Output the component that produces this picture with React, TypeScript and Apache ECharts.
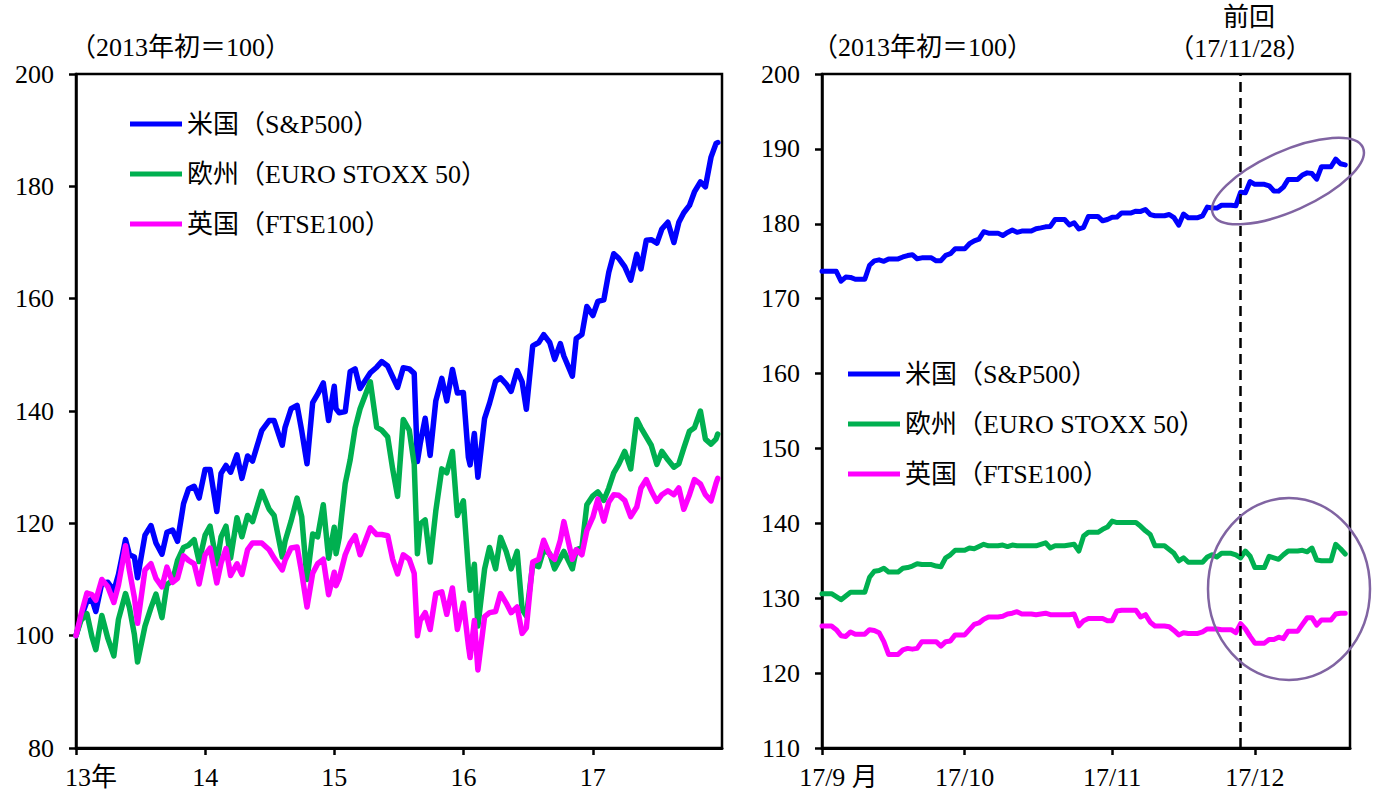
import { useEffect, useRef } from 'react';
import * as echarts from 'echarts';

const FONT = 'Liberation Serif, Noto Sans CJK JP, serif';
const SERIES_NAMES = ['米国（S&P500）', '欧州（EURO STOXX 50）', '英国（FTSE100）'];
const COLORS = ['#0000FF', '#00B050', '#FF00FF'];

// ---------- Left chart: 2013–2017 (2013 start = 100) ----------
const longDates = [
  '2013-01-01','2013-01-15','2013-02-01','2013-02-15','2013-02-26','2013-03-15','2013-04-01','2013-04-18','2013-05-01','2013-05-21','2013-06-01','2013-06-15','2013-06-24','2013-07-15','2013-08-01','2013-08-15','2013-09-01','2013-09-15','2013-10-01','2013-10-15','2013-11-01','2013-11-15','2013-12-01','2013-12-15',
  '2014-01-01','2014-01-15','2014-02-03','2014-02-15','2014-03-01','2014-03-14','2014-04-01','2014-04-15','2014-05-01','2014-05-15','2014-06-10','2014-07-01','2014-07-15','2014-08-07','2014-08-15','2014-09-01','2014-09-18','2014-10-01','2014-10-16','2014-11-01','2014-11-15','2014-12-01','2014-12-16',
  '2015-01-01','2015-01-06','2015-01-15','2015-02-01','2015-02-15','2015-03-01','2015-03-15','2015-04-13','2015-05-01','2015-05-15','2015-06-01','2015-06-15','2015-06-29','2015-07-15','2015-08-01','2015-08-15','2015-08-24','2015-09-01','2015-09-15','2015-09-29','2015-10-15','2015-11-01','2015-11-15','2015-12-01','2015-12-15',
  '2016-01-01','2016-01-15','2016-01-20','2016-02-01','2016-02-11','2016-03-01','2016-03-15','2016-04-01','2016-04-15','2016-05-01','2016-05-15','2016-06-01','2016-06-15','2016-06-27','2016-07-15','2016-08-01','2016-08-15','2016-09-01','2016-09-15','2016-10-01','2016-10-11','2016-11-04','2016-11-15','2016-12-01','2016-12-15',
  '2017-01-01','2017-01-15','2017-02-01','2017-02-15','2017-03-01','2017-03-15','2017-04-01','2017-04-18','2017-05-05','2017-05-17','2017-06-01','2017-06-15','2017-07-01','2017-07-15','2017-08-01','2017-08-18','2017-09-01','2017-09-15','2017-10-01','2017-10-15','2017-11-01','2017-11-15','2017-12-01','2017-12-15','2017-12-20',
];
const usLong = [
  100.0,103.2,106.1,106.5,104.3,109.4,109.5,108.0,110.9,117.1,114.4,114.0,110.3,117.9,119.6,116.5,114.5,118.4,118.8,116.8,123.5,126.1,126.6,124.5,
  129.6,129.6,122.1,128.9,130.3,129.1,132.2,128.0,132.0,131.1,136.5,138.3,138.3,133.9,137.1,140.4,141.0,136.5,130.6,141.5,143.0,145.0,138.3,
  144.4,140.4,139.7,139.9,147.0,147.5,144.0,146.8,147.8,148.8,148.0,146.1,144.2,147.7,147.5,146.7,131.0,134.2,138.7,132.1,141.8,145.8,141.8,147.4,143.2,
  143.3,131.8,130.4,136.0,128.2,138.7,141.4,145.3,145.9,144.8,143.5,147.2,145.2,140.3,151.6,152.2,153.6,152.2,149.2,152.0,149.8,146.2,152.9,153.6,158.6,
  157.0,159.5,159.8,164.7,168.0,167.2,165.7,163.3,167.9,165.3,170.4,170.5,169.9,172.4,173.6,170.0,173.6,175.3,176.6,179.0,180.8,179.9,185.2,187.6,187.8,
];
const euLong = [
  100.0,102.7,103.9,99.8,97.5,103.6,99.5,96.4,102.9,107.5,105.0,100.2,95.3,101.7,105.0,107.4,103.2,109.1,109.8,113.4,115.7,116.1,117.1,113.2,
  117.9,119.5,112.8,117.6,119.5,113.8,121.0,117.6,121.4,120.3,125.7,122.5,121.4,114.0,116.8,120.4,124.5,121.2,110.0,118.1,117.6,123.3,113.8,
  119.3,114.6,117.5,127.1,131.3,137.0,140.4,145.2,137.1,136.6,135.4,129.7,124.8,138.5,136.6,130.5,114.6,119.9,120.6,113.1,122.2,129.7,129.0,132.8,121.4,
  124.0,111.9,108.1,112.7,101.7,111.9,115.7,111.9,117.5,115.0,111.9,115.0,104.7,103.5,112.7,112.3,115.3,114.6,111.9,113.8,115.0,111.9,115.3,115.7,123.3,
  124.9,125.6,124.1,126.3,129.0,130.5,132.8,129.7,138.5,137.0,135.4,133.9,130.5,132.8,131.3,130.0,130.6,133.4,136.4,137.0,140.0,135.0,134.1,135.0,135.9,
];
const ukLong = [
  100.0,103.7,107.6,107.3,106.3,110.0,108.7,105.9,109.0,116.0,111.6,106.8,102.2,111.7,112.8,110.2,108.7,112.2,109.5,110.2,114.2,113.4,112.8,109.2,
  114.4,115.6,109.4,112.9,115.5,110.7,112.8,110.9,115.3,116.5,116.5,115.3,113.8,111.7,113.4,115.6,115.8,111.2,105.1,111.1,112.8,113.6,107.3,
  111.3,108.9,110.2,114.4,116.5,117.8,114.4,119.2,118.0,118.0,117.8,113.6,111.0,114.4,113.6,111.1,100.0,102.7,104.1,101.1,107.5,107.8,103.8,108.5,101.1,
  105.8,98.3,96.1,102.7,93.9,103.4,104.1,104.3,107.5,105.8,104.1,105.1,100.4,101.4,113.1,113.6,117.0,114.4,113.6,117.0,120.3,113.6,115.3,114.4,118.7,
  121.1,124.3,120.4,123.8,125.1,125.0,124.1,121.2,122.9,126.3,127.8,125.8,123.9,125.1,125.8,125.1,126.3,122.5,125.1,127.8,127.0,125.1,124.0,127.1,128.0,
];

// ---------- Right chart: daily (calendar days) from 2017-09-01 ----------
const DAILY_START = [2017, 8, 1]; // 2017-09-01
const usDaily = [
  173.65,173.65,173.65,173.65,172.34,172.88,172.84,172.59,172.59,172.59,
  174.46,175.05,175.18,174.99,175.31,175.31,175.31,175.57,175.76,175.87,
  175.33,175.45,175.45,175.45,175.06,175.07,175.79,176.00,176.65,176.65,
  176.65,177.34,177.72,177.94,178.94,178.75,178.75,178.75,178.43,178.84,
  179.17,178.86,179.02,179.02,179.02,179.33,179.45,179.59,179.65,180.57,
  180.57,180.57,179.85,180.14,179.30,179.53,180.98,180.98,180.98,180.40,
  180.57,180.86,180.89,181.45,181.45,181.45,181.68,181.65,181.91,181.23,
  181.07,181.07,181.07,181.24,180.82,179.82,181.30,180.82,180.82,180.82,
  181.05,182.23,182.10,182.10,182.47,182.47,182.47,182.40,184.20,184.13,
  185.64,185.27,185.27,185.27,185.07,184.38,184.36,184.90,185.92,185.92,
  185.92,186.51,186.80,186.71,185.95,187.62,187.62,187.62,188.63,188.02,187.86,
];
const euDaily = [
  130.6,130.6,130.6,130.2,129.8,130.3,130.8,130.8,130.8,130.8,
  132.8,133.6,133.7,134.0,133.5,133.5,133.5,134.0,134.1,134.3,
  134.6,134.5,134.5,134.5,134.3,134.2,135.4,135.8,136.4,136.4,
  136.4,136.7,136.6,136.9,137.2,137.0,137.0,137.0,137.1,136.9,
  137.1,137.0,137.0,137.0,137.0,137.0,137.2,137.4,136.7,137.0,
  137.0,137.0,137.1,137.2,136.3,138.3,138.8,138.8,138.8,139.2,
  139.5,140.3,140.1,140.1,140.1,140.1,140.1,139.6,139.0,138.5,
  137.0,137.0,137.0,136.5,136.0,135.0,135.4,134.8,134.8,134.8,
  134.8,135.5,135.8,135.5,136.0,136.0,136.0,135.8,135.4,136.3,
  135.6,134.1,134.1,134.1,135.6,135.4,135.2,135.8,136.3,136.3,
  136.3,136.4,136.2,136.7,135.1,135.0,135.0,135.0,137.2,136.6,135.9,
];
const ukDaily = [
  126.3,126.3,126.3,125.8,125.0,124.9,125.5,125.2,125.2,125.2,
  125.8,125.7,125.4,124.2,122.5,122.5,122.5,123.1,123.3,123.2,
  123.3,124.2,124.2,124.2,124.2,123.6,124.2,124.3,125.1,125.1,
  125.1,125.8,126.5,126.7,127.2,127.5,127.5,127.5,127.6,127.9,
  128.0,128.2,127.9,127.9,127.9,127.8,127.9,128.0,127.8,127.8,
  127.8,127.8,127.8,127.9,126.3,127.0,127.3,127.3,127.3,127.3,
  127.0,127.0,128.3,128.4,128.4,128.4,128.4,127.5,127.8,126.8,
  126.3,126.3,126.3,126.2,125.7,125.1,125.4,125.3,125.3,125.3,
  125.5,125.9,125.9,125.9,125.8,125.8,125.8,125.4,126.6,125.9,
  124.9,124.0,124.0,124.0,124.5,124.5,124.8,124.6,125.6,125.6,
  125.6,126.5,127.4,127.4,126.4,127.1,127.1,127.1,127.9,128.0,128.0,
];
const PREVIOUS_DATE = [2017, 10, 28]; // 17/11/28

const DAY = 24 * 3600 * 1000;
const ts = (y: number, m: number, d: number) => new Date(y, m, d).getTime();

export default function App() {
  const ref = useRef<HTMLDivElement>(null);

  useEffect(() => {
    if (!ref.current) return;
    const chart = echarts.init(ref.current, undefined, { renderer: 'svg' });

    const longSeries = [usLong, euLong, ukLong].map((vals, i) => ({
      name: SERIES_NAMES[i],
      type: 'line',
      xAxisIndex: 0,
      yAxisIndex: 0,
      showSymbol: false,
      symbol: 'none',
      data: longDates.map((d, j) => [d, vals[j]]),
      lineStyle: { color: COLORS[i], width: 5.5, join: 'round', cap: 'round' },
      itemStyle: { color: COLORS[i] },
    }));

    const dailyDate = (i: number) => ts(DAILY_START[0], DAILY_START[1], DAILY_START[2] + i);
    const shortSeries: any[] = [usDaily, euDaily, ukDaily].map((vals, i) => ({
      name: SERIES_NAMES[i],
      type: 'line',
      xAxisIndex: 1,
      yAxisIndex: 1,
      showSymbol: false,
      symbol: 'none',
      data: vals.map((v, j) => [dailyDate(j), v]),
      lineStyle: { color: COLORS[i], width: 5, join: 'round', cap: 'round' },
      itemStyle: { color: COLORS[i] },
    }));
    shortSeries[0].markLine = {
      silent: true,
      symbol: ['none', 'none'],
      label: { show: false },
      lineStyle: { color: '#000', width: 2.5, type: [10, 6] },
      data: [{ xAxis: ts(PREVIOUS_DATE[0], PREVIOUS_DATE[1], PREVIOUS_DATE[2]) }],
    };

    const labelStyle = { color: '#000', fontSize: 26, fontFamily: FONT };
    const axisLine = { show: true, lineStyle: { color: '#000', width: 3 } };
    const axisTick = { show: true, length: 7, lineStyle: { color: '#000', width: 2.5 } };

    const legendBase = {
      orient: 'vertical', itemWidth: 52, itemHeight: 5, itemGap: 24, icon: 'rect',
      textStyle: { ...labelStyle }, data: SERIES_NAMES, selectedMode: false,
    };
    const textEl = (x: number, y: number, text: string, align: string) => ({
      type: 'text', x, y,
      style: { text, fill: '#000', fontSize: 26, fontFamily: FONT, align, verticalAlign: 'middle' },
    });

    const option: any = {
      animation: false,
      textStyle: { fontFamily: FONT },
      grid: [
        { left: 76, top: 74, width: 646, height: 674, show: true, borderColor: '#000', borderWidth: 2.5, backgroundColor: 'transparent' },
        { left: 822, top: 74, width: 528, height: 674, show: true, borderColor: '#000', borderWidth: 2.5, backgroundColor: 'transparent' },
      ],
      xAxis: [
        {
          type: 'time', gridIndex: 0,
          min: ts(2013, 0, 1), max: ts(2018, 0, 1),
          splitNumber: 5, minInterval: 360 * DAY,
          axisLine, axisTick,
          splitLine: { show: false },
          axisLabel: {
            ...labelStyle, margin: 16, showMaxLabel: false, hideOverlap: false,
            formatter: (v: number) => {
              const d = new Date(v);
              const y = d.getFullYear();
              if (y === 2013) return '{first|13年}';
              return String(y % 100);
            },
            rich: { first: { ...labelStyle, padding: [0, 0, 0, 30] } },
          },
        },
        {
          type: 'time', gridIndex: 1,
          min: ts(2017, 8, 1), max: ts(2017, 11, 21),
          splitNumber: 3, minInterval: 28 * DAY,
          axisLine, axisTick,
          splitLine: { show: false },
          axisLabel: {
            ...labelStyle, margin: 16, showMaxLabel: false, hideOverlap: false,
            formatter: (v: number) => {
              const d = new Date(v);
              const m = d.getMonth() + 1;
              if (m === 9) return '{first|17/9 月}';
              return '17/' + m;
            },
            rich: { first: { ...labelStyle, padding: [0, 0, 0, 33] } },
          },
        },
      ],
      yAxis: [
        {
          type: 'value', gridIndex: 0, min: 80, max: 200, interval: 20,
          axisLine: { show: true, lineStyle: { color: '#000', width: 2.5 } }, axisTick,
          splitLine: { show: false },
          axisLabel: { ...labelStyle, margin: 22 },
        },
        {
          type: 'value', gridIndex: 1, min: 110, max: 200, interval: 10,
          axisLine: { show: true, lineStyle: { color: '#000', width: 2.5 } }, axisTick,
          splitLine: { show: false },
          axisLabel: { ...labelStyle, margin: 22 },
        },
      ],
      legend: [
        { ...legendBase, left: 125, top: 106 },
        { ...legendBase, left: 843, top: 356 },
      ],
      graphic: [
        textEl(70, 47, '（2013年初＝100）', 'left'),
        textEl(812, 47, '（2013年初＝100）', 'left'),
        textEl(1249, 17, '前回', 'center'),
        textEl(1240, 48, '（17/11/28）', 'center'),
        { type: 'ellipse', x: 1288, y: 181, rotation: 0.42, shape: { cx: 0, cy: 0, rx: 82, ry: 30 }, style: { fill: 'none', stroke: '#8064A2', lineWidth: 2.5 }, z: 100 },
        { type: 'ellipse', x: 1289, y: 589, shape: { cx: 0, cy: 0, rx: 81, ry: 91 }, style: { fill: 'none', stroke: '#8064A2', lineWidth: 2.5 }, z: 100 },
      ],
      series: [...longSeries, ...shortSeries],
    };

    chart.setOption(option);
    return () => chart.dispose();
  }, []);

  return (
    <div
      ref={ref}
      style={{ position: 'fixed', left: 0, top: 0, width: 1377, height: 803, background: '#fff' }}
    />
  );
}
